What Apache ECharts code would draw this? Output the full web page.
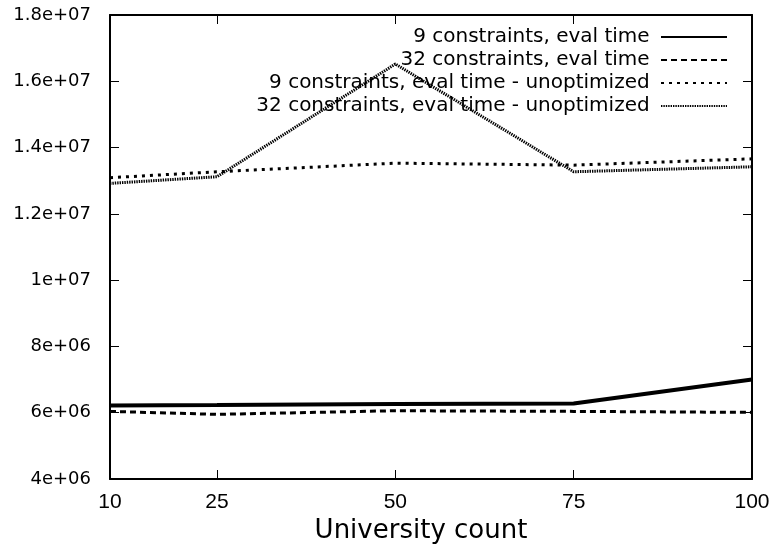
<!DOCTYPE html>
<html>
<head>
<meta charset="utf-8">
<script src="https://cdn.jsdelivr.net/npm/echarts@6/dist/echarts.min.js"></script>
<style>html,body{margin:0;padding:0;background:#fff}#c{width:780px;height:555px}</style>
</head>
<body>
<div id="c"></div>
<script>
const universityCounts = [10, 25, 50, 75, 100];
const seriesNames = [
  '9 constraints, eval time',
  '32 constraints, eval time',
  '9 constraints, eval time - unoptimized',
  '32 constraints, eval time - unoptimized'
];
const eval9 = [6.22e6, 6.23e6, 6.26e6, 6.28e6, 7.0e6];
const eval32 = [6.04e6, 5.95e6, 6.06e6, 6.04e6, 6.01e6];
const evalUnopt9 = [1.309e7, 1.327e7, 1.353e7, 1.347e7, 1.366e7];
const evalUnopt32 = [1.292e7, 1.312e7, 1.652e7, 1.327e7, 1.342e7];

const allValues = [eval9, eval32, evalUnopt9, evalUnopt32];
const lineStyles = [
  {width: 4, type: 'solid'},
  {width: 3, type: [6, 4]},
  {width: 3, type: [3, 5]},
  {width: 3, type: [1.4, 1]}
];

function gnu(v) {
  if (v === 0) return '0';
  const e = Math.floor(Math.log10(v) + 1e-9);
  let m = v / Math.pow(10, e);
  m = Math.round(m * 1000) / 1000;
  const es = (e < 10 ? '0' : '') + e;
  return m + 'e+' + es;
}

const ARIAL = 'Liberation Sans, Arial, sans-serif';
const DEJAVU = 'DejaVu Sans, sans-serif';
const chart = echarts.init(document.getElementById('c'), null, {renderer: 'canvas'});

const series = seriesNames.map((n, i) => ({
  name: n,
  type: 'line',
  symbol: 'none',
  data: universityCounts.map((x, k) => [x, allValues[i][k]]),
  lineStyle: Object.assign({color: '#000', cap: 'butt'}, lineStyles[i]),
  itemStyle: {color: '#000'},
  animation: false
}));

chart.setOption({
  backgroundColor: '#fff',
  animation: false,
  grid: {left: 110, right: 28, top: 15, bottom: 76, show: false},
  legend: {
    orient: 'vertical',
    align: 'right',
    right: 47,
    top: 22,
    itemWidth: 66,
    itemHeight: 14,
    itemGap: 3,
    formatter: n => n + ' ',
    itemStyle: {opacity: 0, color: 'rgba(0,0,0,0)', borderWidth: 0},
    textStyle: {fontFamily: DEJAVU, fontSize: 20, lineHeight: 20, color: '#000'},
    data: seriesNames
  },
  xAxis: [{
    type: 'value', min: 10, max: 100,
    name: 'University count', nameLocation: 'middle', nameGap: 37,
    nameTextStyle: {fontFamily: DEJAVU, fontSize: 26, color: '#000', padding: [0, 20, 0, 0]},
    axisLine: {show: true, onZero: false, lineStyle: {color: '#000', width: 2}},
    axisTick: {show: true, inside: true, length: 9, customValues: universityCounts, lineStyle: {color: '#000', width: 1}},
    axisLabel: {customValues: universityCounts, fontFamily: ARIAL, fontSize: 21, color: '#000', margin: 13},
    splitLine: {show: false}
  }, {
    type: 'value', min: 10, max: 100, position: 'top',
    axisLine: {show: true, onZero: false, lineStyle: {color: '#000', width: 2}},
    axisTick: {show: true, inside: true, length: 9, customValues: universityCounts, lineStyle: {color: '#000', width: 1}},
    axisLabel: {show: false},
    splitLine: {show: false}
  }],
  yAxis: [{
    type: 'value', min: 4e6, max: 1.8e7, interval: 2e6,
    axisLine: {show: true, onZero: false, lineStyle: {color: '#000', width: 2}},
    axisTick: {show: true, inside: true, length: 9, lineStyle: {color: '#000', width: 1}},
    axisLabel: {fontFamily: DEJAVU, fontSize: 18, color: '#000', margin: 19, formatter: gnu},
    splitLine: {show: false}
  }, {
    type: 'value', min: 4e6, max: 1.8e7, interval: 2e6, position: 'right',
    axisLine: {show: true, onZero: false, lineStyle: {color: '#000', width: 2}},
    axisTick: {show: true, inside: true, length: 9, lineStyle: {color: '#000', width: 1}},
    axisLabel: {show: false},
    splitLine: {show: false}
  }],
  series: series
});
</script>
</body>
</html>
